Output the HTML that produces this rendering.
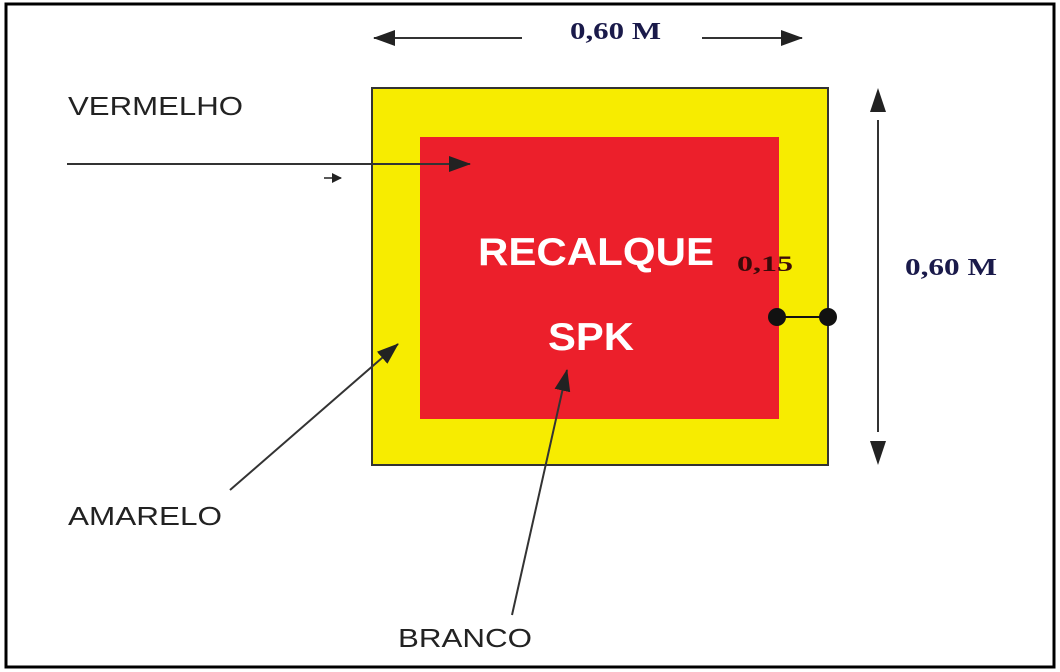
<!DOCTYPE html>
<html><head><style>
body{margin:0;background:#fff;}
svg{display:block;}
</style></head><body>
<svg width="1060" height="672" xmlns="http://www.w3.org/2000/svg">
<defs>
<marker id="a" markerWidth="10" markerHeight="10" refX="9" refY="5" orient="auto" markerUnits="userSpaceOnUse"><path d="M0,0 L10,5 L0,10 Z" fill="#222"/></marker>
<marker id="b" markerWidth="22" markerHeight="16" refX="21" refY="8" orient="auto" markerUnits="userSpaceOnUse"><path d="M0,0 L22,8 L0,16 Z" fill="#222"/></marker>
</defs>
<rect x="6" y="4" width="1048" height="663" fill="#fff" stroke="#000" stroke-width="3"/>
<rect x="372" y="88" width="456" height="377" fill="#f7ec00" stroke="#333" stroke-width="2"/>
<rect x="420" y="137" width="359" height="282" fill="#ec1f2b"/>
<line x1="522" y1="38" x2="374" y2="38" stroke="#333" stroke-width="2" marker-end="url(#b)"/>
<line x1="702" y1="38" x2="802" y2="38" stroke="#333" stroke-width="2" marker-end="url(#b)"/>
<text x="570" y="39" font-family="Liberation Serif,serif" font-weight="bold" font-size="24" fill="#1a1a4a" textLength="91" lengthAdjust="spacingAndGlyphs">0,60 M</text>
<line x1="878" y1="120" x2="878" y2="432" stroke="#333" stroke-width="2"/>
<path d="M878,88 L870,112 L886,112 Z M878,465 L870,441 L886,441 Z" fill="#222"/>
<text x="905" y="275" font-family="Liberation Serif,serif" font-weight="bold" font-size="24" fill="#1a1a4a" textLength="92" lengthAdjust="spacingAndGlyphs">0,60 M</text>
<text x="68" y="115" font-family="Liberation Sans,sans-serif" font-size="26" fill="#222" textLength="175" lengthAdjust="spacingAndGlyphs">VERMELHO</text>
<line x1="67" y1="164" x2="470" y2="164" stroke="#333" stroke-width="2" marker-end="url(#b)"/>
<line x1="324" y1="178" x2="341" y2="178" stroke="#222" stroke-width="1.5" marker-end="url(#a)"/>
<text x="478" y="265" font-family="Liberation Sans,sans-serif" font-weight="bold" font-size="39" fill="#fff" textLength="236" lengthAdjust="spacingAndGlyphs">RECALQUE</text>
<text x="548" y="350" font-family="Liberation Sans,sans-serif" font-weight="bold" font-size="39" fill="#fff" textLength="86" lengthAdjust="spacingAndGlyphs">SPK</text>
<text x="737" y="271" font-family="Liberation Serif,serif" font-weight="bold" font-size="22" fill="#3a0a0a" textLength="56" lengthAdjust="spacingAndGlyphs">0,15</text>
<line x1="777" y1="317" x2="828" y2="317" stroke="#111" stroke-width="2"/>
<circle cx="777" cy="317" r="9" fill="#111"/>
<circle cx="828" cy="317" r="9" fill="#111"/>
<line x1="230" y1="490" x2="398" y2="344" stroke="#333" stroke-width="2" marker-end="url(#b)"/>
<text x="68" y="525" font-family="Liberation Sans,sans-serif" font-size="26" fill="#222" textLength="154" lengthAdjust="spacingAndGlyphs">AMARELO</text>
<line x1="512" y1="615" x2="567" y2="370" stroke="#333" stroke-width="2" marker-end="url(#b)"/>
<text x="398" y="647" font-family="Liberation Sans,sans-serif" font-size="26" fill="#222" textLength="134" lengthAdjust="spacingAndGlyphs">BRANCO</text>
</svg>
</body></html>
